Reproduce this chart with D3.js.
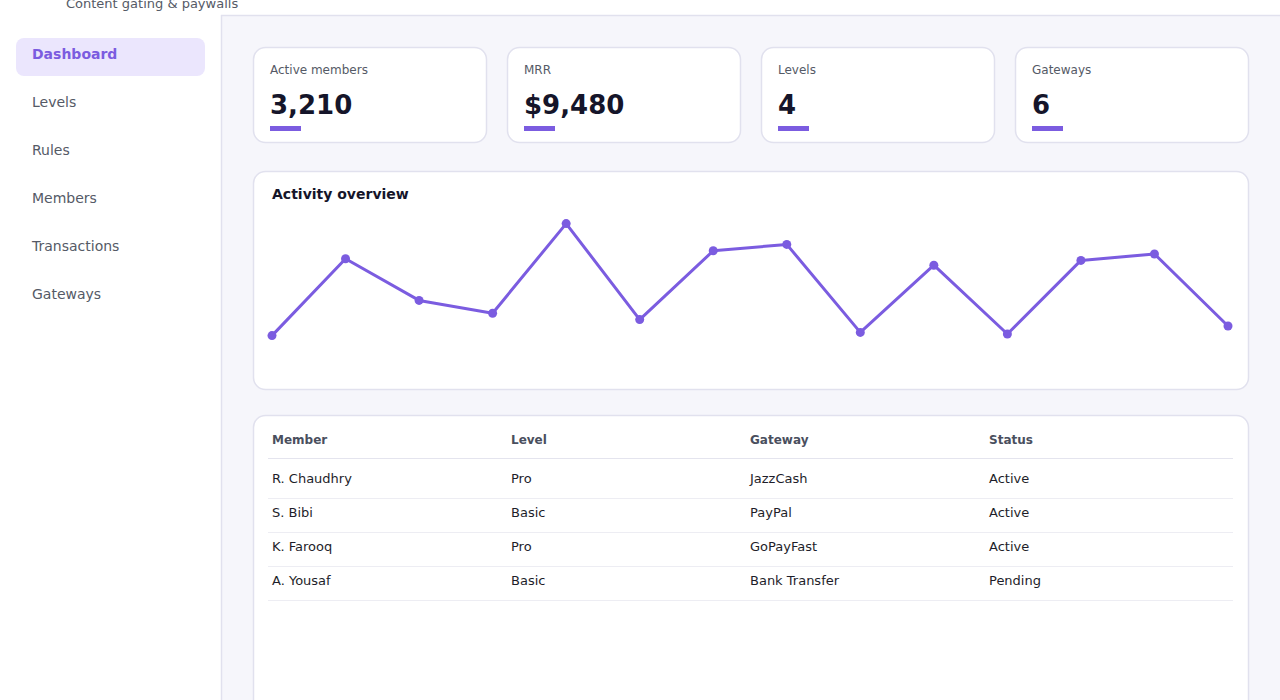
<!DOCTYPE html>
<html>
<head>
<meta charset="utf-8">
<script src="https://cdn.jsdelivr.net/npm/d3@7"></script>
<style>
  html, body { margin: 0; padding: 0; background: #ffffff; overflow: hidden; }
  svg { display: block; font-family: "DejaVu Sans", sans-serif; }
</style>
</head>
<body>
<div id="wrapper"></div>
<script>
// data
const navItems = ["Dashboard", "Levels", "Rules", "Members", "Transactions", "Gateways"];
const activeNav = "Dashboard";
const kpiLabels = ["Active members", "MRR", "Levels", "Gateways"];
const kpiValues = ["3,210", "$9,480", "4", "6"];
const activity = [24, 72, 46, 38, 94, 34, 77, 81, 26, 68, 25, 71, 75, 30];
const tableHeaders = ["Member", "Level", "Gateway", "Status"];
const members = ["R. Chaudhry", "S. Bibi", "K. Farooq", "A. Yousaf"];
const levels = ["Pro", "Basic", "Pro", "Basic"];
const gateways = ["JazzCash", "PayPal", "GoPayFast", "Bank Transfer"];
const statuses = ["Active", "Active", "Active", "Pending"];

function draw() {
  const width = 1280;
  const height = 700;
  const accent = "#7b5ce0";
  const border = "#e1e1ee";

  const svg = d3.select("#wrapper")
    .append("svg")
      .attr("width", width)
      .attr("height", height);

  // main area background + borders
  svg.append("rect")
      .attr("x", 221).attr("y", 15)
      .attr("width", width - 221).attr("height", height - 15)
      .attr("fill", "#f6f6fb");
  svg.append("line")
      .attr("x1", 221.5).attr("x2", 221.5)
      .attr("y1", 15).attr("y2", height)
      .attr("stroke", border).attr("stroke-width", 1.5);
  svg.append("line")
      .attr("x1", 221).attr("x2", width)
      .attr("y1", 15.5).attr("y2", 15.5)
      .attr("stroke", border).attr("stroke-width", 1.5);

  // brand subtitle (sits at the very top edge, as in the reference)
  svg.append("text")
      .attr("x", 66).attr("y", 8)
      .attr("font-size", 13)
      .attr("fill", "#555a66")
      .text("Content gating & paywalls");

  // sidebar
  const nav = svg.append("g").selectAll("g")
    .data(navItems)
    .join("g")
      .attr("transform", (d, i) => `translate(0, ${54 + i * 48})`);

  nav.filter(d => d === activeNav)
    .append("rect")
      .attr("x", 16).attr("y", -16)
      .attr("width", 189).attr("height", 38)
      .attr("rx", 8)
      .attr("fill", "#ebe6fd");

  nav.append("text")
      .attr("x", 32)
      .attr("dy", "0.35em")
      .attr("font-size", 14)
      .attr("font-weight", d => d === activeNav ? "bold" : "normal")
      .attr("fill", d => d === activeNav ? accent : "#555a66")
      .text(d => d);

  // KPI cards
  const cardX = d3.scaleBand()
    .domain(d3.range(kpiLabels.length))
    .range([253, 1269]);
  const cardW = 233;

  const cards = svg.append("g").selectAll("g")
    .data(kpiLabels)
    .join("g")
      .attr("transform", (d, i) => `translate(${cardX(i)}, 47)`);

  cards.append("rect")
      .attr("x", 0.5).attr("y", 0.5)
      .attr("width", cardW).attr("height", 95)
      .attr("rx", 12)
      .attr("fill", "#ffffff")
      .attr("stroke", border).attr("stroke-width", 1.5);
  cards.append("text")
      .attr("x", 17).attr("y", 27)
      .attr("font-size", 12)
      .attr("fill", "#555a66")
      .text(d => d);
  cards.append("text")
      .attr("x", 17).attr("y", 67)
      .attr("font-size", 26)
      .attr("font-weight", "bold")
      .attr("fill", "#15152a")
      .text((d, i) => kpiValues[i]);
  cards.append("rect")
      .attr("x", 17).attr("y", 79)
      .attr("width", 31).attr("height", 5)
      .attr("fill", accent);

  // activity chart card
  const chart = svg.append("g").attr("transform", "translate(253, 171)");
  chart.append("rect")
      .attr("x", 0.5).attr("y", 0.5)
      .attr("width", 995).attr("height", 218)
      .attr("rx", 12)
      .attr("fill", "#ffffff")
      .attr("stroke", border).attr("stroke-width", 1.5);
  chart.append("text")
      .attr("x", 19).attr("y", 28)
      .attr("font-size", 14)
      .attr("font-weight", "bold")
      .attr("fill", "#15152a")
      .text("Activity overview");

  const xScale = d3.scalePoint()
    .domain(d3.range(activity.length))
    .range([19, 975]);
  const yScale = d3.scaleLinear()
    .domain([0, 100])
    .range([203, 43]);

  const lineGen = d3.line()
    .x((d, i) => xScale(i))
    .y(d => yScale(d));

  chart.append("path")
      .datum(activity)
      .attr("d", lineGen)
      .attr("fill", "none")
      .attr("stroke", accent)
      .attr("stroke-width", 3)
      .attr("stroke-linejoin", "round");

  chart.append("g").selectAll("circle")
    .data(activity)
    .join("circle")
      .attr("cx", (d, i) => xScale(i))
      .attr("cy", d => yScale(d))
      .attr("r", 4.5)
      .attr("fill", accent);

  // members table card
  const table = svg.append("g").attr("transform", "translate(253, 415)");
  table.append("rect")
      .attr("x", 0.5).attr("y", 0.5)
      .attr("width", 995).attr("height", 320)
      .attr("rx", 12)
      .attr("fill", "#ffffff")
      .attr("stroke", border).attr("stroke-width", 1.5);

  const colX = d3.scaleBand()
    .domain(d3.range(tableHeaders.length))
    .range([15, 971]);

  table.append("g").selectAll("text")
    .data(tableHeaders)
    .join("text")
      .attr("x", (d, i) => colX(i) + 4)
      .attr("y", 29)
      .attr("font-size", 12)
      .attr("font-weight", "bold")
      .attr("fill", "#4a4f5e")
      .text(d => d);

  table.append("line")
      .attr("x1", 15).attr("x2", 980)
      .attr("y1", 43.5).attr("y2", 43.5)
      .attr("stroke", "#e4e4ee");

  const rows = members.map((m, i) => [m, levels[i], gateways[i], statuses[i]]);

  const rowG = table.append("g").selectAll("g")
    .data(rows)
    .join("g")
      .attr("transform", (d, i) => `translate(0, ${49 + i * 34})`);

  rowG.selectAll("text")
    .data(d => d)
    .join("text")
      .attr("x", (d, i) => colX(i) + 4)
      .attr("y", 19)
      .attr("font-size", 13)
      .attr("fill", "#1e1e2a")
      .text(d => d);

  rowG.append("line")
      .attr("x1", 15).attr("x2", 980)
      .attr("y1", 34.5).attr("y2", 34.5)
      .attr("stroke", "#ededf3");
}
draw();
</script>
</body>
</html>
